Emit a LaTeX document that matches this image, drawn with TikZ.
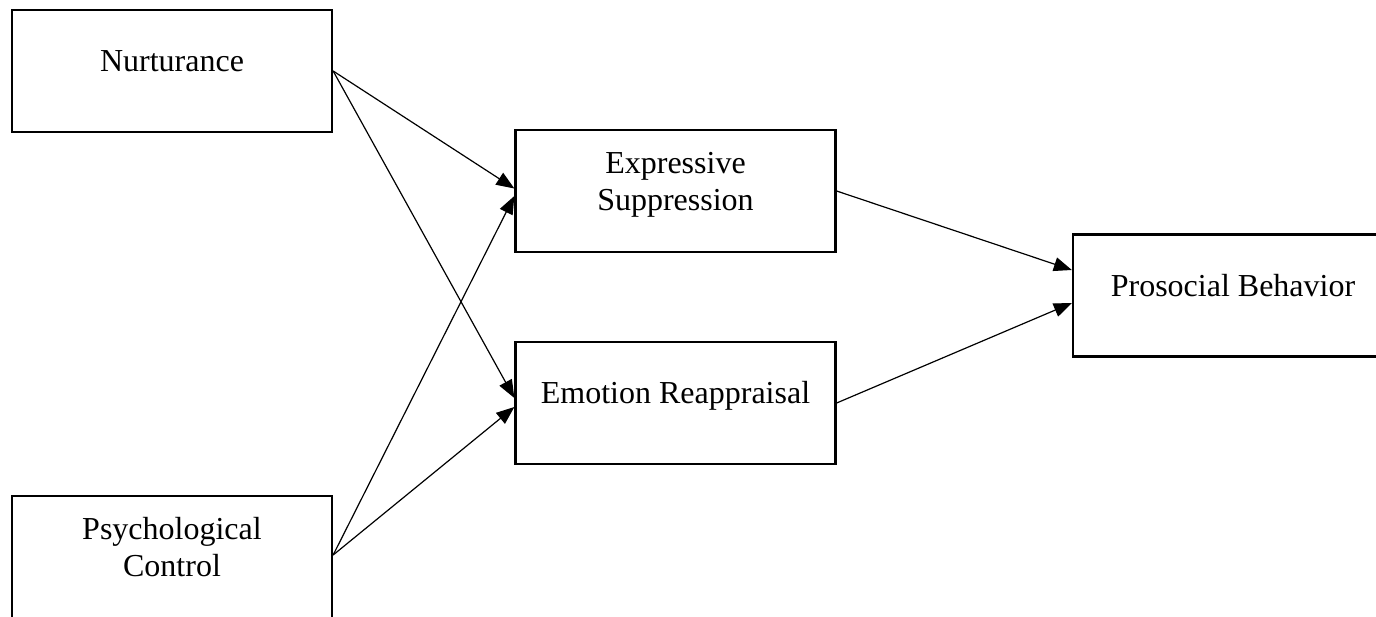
\documentclass[tikz,border=0pt]{standalone}
\usepackage{fontspec}
\setmainfont{Liberation Serif}
\usetikzlibrary{arrows.meta}
\begin{document}
\begin{tikzpicture}[x=1pt,y=-1pt,
  box/.style={draw,line width=2.3pt,minimum width=320pt,minimum height=122pt,inner sep=0pt},
  txt/.style={font=\fontsize{32}{37}\selectfont,align=center,inner sep=0pt},
  link/.style={line width=1.2pt,-{Triangle[length=18pt,width=14pt]}}]
\useasboundingbox (0,0) rectangle (1376,616);
\fill[white] (0,0) rectangle (1376,616);
% boxes
\node[box] (nur) at (172,71) {};
\node[box] (es) at (675.5,191) {};
\node[box] (er) at (675.5,403) {};
\node[box] (pb) at (1233,295.5) {};
\node[box] (pc) at (172,557) {};
% texts
\node[txt,anchor=base] (nurt) at (172,71) {Nurturance};
\node[txt] (est) at (675.5,185) {Expressive\\Suppression};
\node[txt,anchor=base] (ert) at (675.5,403) {Emotion Reappraisal};
\node[txt,anchor=base] (pbt) at (1233,296) {Prosocial Behavior};
\node[txt] (pct) at (172,547) {Psychological\\Control};
% connectors
\draw[link] (nur.east) -- ([yshift=2.5pt]es.west);
\draw[link] (nur.east) -- ([yshift=5pt]er.west);
\draw[link] ([yshift=2pt]pc.east) -- ([yshift=-5pt]es.west);
\draw[link] ([yshift=2pt]pc.east) -- ([yshift=-4pt]er.west);
\draw[link] (es.east) -- ([yshift=25.5pt]pb.west);
\draw[link] (er.east) -- ([yshift=-7.5pt]pb.west);
\end{tikzpicture}
\end{document}
